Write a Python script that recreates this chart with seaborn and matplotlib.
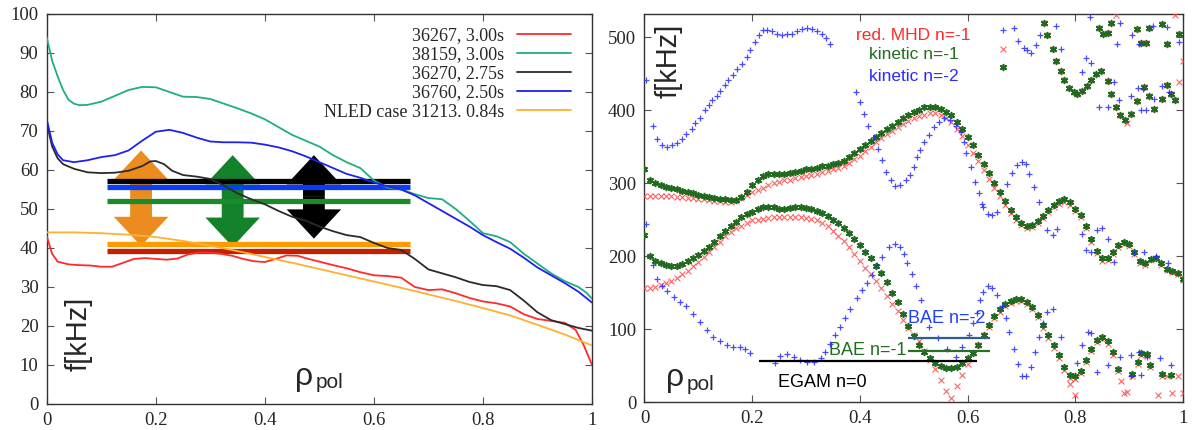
import numpy as np
import pandas as pd
import seaborn as sns
import matplotlib.pyplot as plt
from matplotlib.patches import FancyArrow

# ---------------- left panel: frequency profiles ----------------
x_36267 = [0.0, 0.01, 0.02, 0.04, 0.06, 0.08, 0.1, 0.12, 0.14, 0.16, 0.18, 0.2, 0.22, 0.24, 0.26, 0.28,
           0.3, 0.32, 0.34, 0.36, 0.38, 0.4, 0.42, 0.44, 0.46, 0.48, 0.5, 0.525, 0.55, 0.575, 0.6, 0.625,
           0.65, 0.675, 0.7, 0.725, 0.75, 0.775, 0.8, 0.825, 0.85, 0.875, 0.9, 0.925, 0.95, 0.97, 0.985, 1.0]
f_36267 = [43, 38.5, 36.5, 35.8, 35.6, 35.5, 35.2, 35.2, 36.2, 37.2, 37.4, 37.2, 37, 37.3, 38.4, 38.8,
           38.8, 38.5, 38, 37.2, 36.6, 36.4, 37.2, 38.1, 38, 37.2, 36.5, 35.6, 34.8, 33.8, 33, 32.8,
           32.4, 30, 29.2, 29.4, 28.4, 27.2, 26.3, 25.8, 25, 23, 21.8, 21.3, 20.8, 19, 15, 10]

x_38159 = [0.0, 0.01, 0.02, 0.03, 0.04, 0.05, 0.06, 0.075, 0.1, 0.125, 0.15, 0.175, 0.2, 0.225, 0.25,
           0.275, 0.3, 0.325, 0.35, 0.375, 0.4, 0.425, 0.45, 0.475, 0.5, 0.525, 0.55, 0.575, 0.6, 0.625,
           0.65, 0.675, 0.7, 0.725, 0.75, 0.775, 0.8, 0.825, 0.85, 0.875, 0.9, 0.925, 0.95, 0.975, 0.99, 1.0]
f_38159 = [94, 88, 84, 80.5, 78, 77, 76.6, 76.7, 77.5, 79, 80.5, 81.3, 81.2, 80, 78.8,
           78.7, 78.2, 77, 75.8, 74.5, 73, 71, 69, 67.5, 66, 63.8, 62, 60.5, 57.3, 55.5,
           55, 53.8, 52.8, 52.5, 50, 47, 43.8, 43, 41.5, 38.5, 36, 33.5, 31.5, 30, 28.5, 27]

x_36270 = [0.0, 0.01, 0.02, 0.03, 0.05, 0.075, 0.1, 0.125, 0.15, 0.175, 0.19, 0.2, 0.215, 0.23, 0.25,
           0.275, 0.3, 0.325, 0.35, 0.375, 0.4, 0.425, 0.45, 0.475, 0.5, 0.525, 0.55, 0.575, 0.6, 0.625,
           0.65, 0.675, 0.7, 0.725, 0.75, 0.775, 0.8, 0.825, 0.85, 0.875, 0.9, 0.925, 0.95, 0.975, 1.0]
f_36270 = [72, 66, 63, 61.5, 60.3, 59.4, 59.2, 59.3, 59.8, 61, 62.2, 62.3, 61.5, 59.8, 58.7,
           58.3, 57.7, 56, 54, 52.5, 51.2, 49.5, 48, 47, 45.5, 44.3, 43.3, 42.8, 41.3, 40,
           39.5, 37.2, 34.5, 33.5, 32.5, 31.3, 30.5, 30.2, 29.2, 26.5, 23.5, 21.5, 20.5, 19.5, 18.8]

x_36760 = [0.0, 0.01, 0.02, 0.03, 0.05, 0.075, 0.1, 0.125, 0.15, 0.175, 0.2, 0.225, 0.25, 0.275, 0.3,
           0.325, 0.35, 0.375, 0.4, 0.425, 0.45, 0.475, 0.5, 0.525, 0.55, 0.575, 0.6, 0.625, 0.65, 0.675,
           0.7, 0.725, 0.75, 0.775, 0.8, 0.825, 0.85, 0.875, 0.9, 0.925, 0.95, 0.975, 1.0]
f_36760 = [73, 67, 64, 62.5, 62, 62.5, 63.3, 63.8, 65, 67.5, 69.8, 70.3, 69.5, 68.3, 67.3,
           67.1, 67.1, 67, 66.5, 65.8, 64.8, 63.5, 62, 60.5, 59, 58, 56.8, 55.8, 55, 53.5,
           51.5, 49.5, 47.5, 45.5, 43.3, 41.5, 39.8, 37.5, 35, 33, 31, 28.8, 26]

x_nled = [0.0, 0.05, 0.1, 0.15, 0.2, 0.25, 0.3, 0.35, 0.4, 0.45, 0.5, 0.55, 0.6, 0.65, 0.7, 0.75,
          0.8, 0.85, 0.9, 0.95, 1.0]
f_nled = [44, 44, 43.8, 43.4, 42.8, 41.8, 40.6, 39.2, 37.7, 36.2, 34.6, 33, 31.4, 29.8, 28.1, 26.4,
          24.6, 22.7, 20.3, 17.8, 15]

curve_labels = ["36267, 3.00s", "38159, 3.00s", "36270, 2.75s", "36760, 2.50s", "NLED case 31213. 0.84s"]
curve_colors = ["#ff2a2a", "#1fae80", "#2b2b2b", "#2020f0", "#ffb030"]

# thick horizontal bands and double arrows
band_levels = [57.2, 55.7, 52.1, 40.9, 39.3]
band_colors = ["#000000", "#0a3cf5", "#1a8a2a", "#ff9900", "#c42000"]
band_start, band_end = 0.11, 0.667
arrow_x = [0.173, 0.341, 0.49]
arrow_lo = [40.5, 40.3, 42.4]
arrow_hi = [65.0, 63.8, 63.8]
arrow_colors = ["#ec8c1e", "#13822a", "#000000"]

# ---------------- right panel: mode frequencies ----------------
rho_grid = np.linspace(0, 1, 101)
mhd_upper = [283, 283, 282, 282, 282, 282, 281, 281, 280, 280, 279, 278, 277, 276, 275, 274, 274, 276, 280, 284,
             288, 291, 294, 297, 300, 302, 304, 305, 307, 308, 310, 311, 313, 315, 317, 319, 321, 324, 328, 333,
             338, 344, 350, 356, 362, 367, 372, 377, 381, 385, 389, 392, 394, 396, 396, 393, 389, 384, 375, 365,
             353, 342, 330, 318, 306, 294, 282, 270, 259, 250, 243, 239, 240, 245, 252, 260, 267, 272, 274, 270,
             262, 254, 238, 220, 204, 194, 195, 203, 212, 217, 214, 203, 190, 188, 195, 197, 188, 181, 178, 176, 167]
kin1_upper = [319, 304, 300, 297, 295, 294, 292, 290, 288, 286, 284, 282, 281, 280, 279, 278, 277, 277, 281, 288,
              297, 305, 310, 312, 312, 312, 313, 314, 316, 317, 319, 320, 321, 323, 324, 326, 328, 331, 336, 341,
              347, 352, 358, 363, 369, 374, 379, 384, 389, 394, 398, 401, 404, 405, 405, 402, 398, 393, 384, 375,
              364, 352, 339, 327, 314, 300, 288, 275, 263, 253, 246, 242, 243, 248, 255, 263, 270, 276, 278, 274,
              265, 256, 241, 224, 207, 197, 198, 206, 215, 219, 216, 205, 193, 190, 196, 198, 190, 183, 180, 177, 168]
mhd_lower = [157, 157, 158, 160, 163, 166, 170, 175, 180, 186, 192, 199, 206, 213, 220, 227, 233, 238, 242, 246,
             249, 250, 251, 252, 253, 253, 253, 253, 253, 253, 252, 251, 249, 246, 241, 235, 228, 221, 212, 203,
             194, 184, 175, 166, 156, 145, 134, 125, 113, 102, 92, 83, 70, 57, 45, 30, 15, 5, 22, 37,
             52, 67, 78, 92, 103, 115, 124, 131, 136, 139, 139, 135, 128, 116, 102, 88, 74, 60, 44, 25, 10]
kin1_lower = [229, 200, 194, 190, 188, 186, 186, 189, 193, 197, 202, 207, 213, 220, 227, 234, 241, 247, 253, 258,
              261, 264, 267, 268, 267, 265, 265, 266, 267, 267, 266, 265, 262, 259, 255, 250, 245, 239, 232, 224,
              215, 206, 197, 187, 177, 165, 150, 137, 120, 104, 90, 78, 68, 60, 54, 50, 47, 46, 48, 53,
              60, 67, 78, 92, 105, 118, 127, 134, 138, 141, 141, 137, 130, 119, 106, 92, 78, 64, 48, 37,
              36, 42, 58, 73, 85, 89, 83, 68, 45]

# points where red. MHD and kinetic n=-1 coincide (upper right)
both_pts = [(0.742, 520), (0.748, 503), (0.758, 484), (0.765, 468), (0.773, 454), (0.780, 441), (0.788, 431),
            (0.797, 425), (0.804, 422), (0.813, 427), (0.821, 433), (0.829, 441), (0.838, 450), (0.847, 454),
            (0.860, 440), (0.867, 423), (0.875, 405), (0.883, 393), (0.892, 387), (0.903, 395), (0.914, 413),
            (0.928, 432), (0.937, 419), (0.947, 402), (0.961, 415), (0.970, 434), (0.978, 423), (0.985, 414),
            (0.844, 513), (0.852, 504), (0.860, 506), (0.867, 520), (0.914, 512), (0.923, 492), (0.931, 492),
            (0.937, 513), (0.961, 518), (0.970, 491), (0.993, 504)]
mhd_extra = [(0.79, 33), (0.80, 32), (0.81, 40), (0.82, 55), (0.83, 70), (0.84, 82), (0.85, 86), (0.86, 80),
             (0.87, 65), (0.88, 42), (0.885, 29), (0.89, 12), (0.897, 14), (0.906, 36), (0.916, 52), (0.923, 64),
             (0.933, 63), (0.939, 48), (0.953, 10), (0.962, 36), (0.97, 35), (0.98, 13), (0.99, 35), (1.0, 13),
             (0.665, 484), (0.875, 530), (0.985, 530), (1.0, 468), (0.993, 439), (0.897, 382)]
kin1_extra = [(0.665, 459), (0.906, 39), (0.916, 55), (0.923, 67), (0.933, 66), (0.939, 51), (0.962, 39),
              (0.978, 37)]

kin2_upper = [(0.003, 442), (0.016, 379), (0.024, 361), (0.032, 353), (0.041, 350), (0.051, 352), (0.060, 355),
              (0.069, 361), (0.078, 368), (0.088, 375), (0.094, 382), (0.103, 390), (0.113, 400), (0.119, 407),
              (0.125, 414), (0.134, 420), (0.140, 427), (0.150, 434), (0.156, 441), (0.165, 448), (0.172, 457),
              (0.181, 464), (0.190, 473), (0.196, 483), (0.206, 493), (0.212, 503), (0.220, 510), (0.227, 510),
              (0.237, 509), (0.246, 505), (0.255, 503), (0.265, 504), (0.274, 505), (0.283, 509), (0.292, 512),
              (0.302, 513), (0.311, 512), (0.320, 509), (0.330, 504), (0.338, 499), (0.345, 491)]
kin2_lower = [(0.003, 244), (0.015, 188), (0.023, 169), (0.032, 159), (0.041, 152), (0.054, 144), (0.066, 137),
              (0.078, 131), (0.091, 121), (0.103, 110), (0.116, 99), (0.128, 89), (0.140, 83), (0.153, 78),
              (0.165, 76), (0.178, 76), (0.187, 72), (0.196, 67), (0.243, 54), (0.252, 63), (0.265, 66),
              (0.277, 62), (0.289, 57), (0.302, 55), (0.314, 55), (0.327, 60), (0.336, 69), (0.345, 80),
              (0.354, 92), (0.363, 103), (0.373, 115), (0.382, 128), (0.395, 142), (0.404, 153), (0.413, 163),
              (0.423, 174), (0.432, 188), (0.441, 199), (0.454, 213), (0.466, 217), (0.475, 213), (0.482, 203),
              (0.488, 190), (0.497, 175), (0.505, 159), (0.514, 140), (0.528, 103), (0.545, 88), (0.562, 72),
              (0.578, 62), (0.590, 75), (0.602, 92), (0.611, 108), (0.617, 122), (0.623, 140), (0.629, 151),
              (0.638, 159), (0.646, 157), (0.655, 147), (0.664, 131), (0.671, 115), (0.677, 96), (0.687, 72),
              (0.694, 52), (0.702, 36), (0.708, 36), (0.717, 48), (0.725, 69), (0.733, 89), (0.740, 108),
              (0.748, 124)]
kin2_mid = [(0.393, 425), (0.401, 411), (0.408, 395), (0.416, 379), (0.426, 363), (0.433, 347), (0.441, 332),
            (0.449, 316), (0.457, 304), (0.466, 296), (0.475, 297), (0.485, 304), (0.493, 311), (0.500, 322),
            (0.506, 336), (0.512, 345), (0.519, 357), (0.528, 366), (0.537, 377), (0.547, 384), (0.556, 389),
            (0.568, 386), (0.578, 379), (0.587, 370), (0.593, 356), (0.598, 341), (0.606, 322), (0.613, 302),
            (0.621, 286), (0.627, 272)]
kin2_extra = [(0.629, 268), (0.638, 258), (0.646, 256), (0.655, 261), (0.674, 299), (0.683, 314), (0.692, 325),
              (0.702, 329), (0.708, 326), (0.714, 313), (0.723, 295), (0.733, 274), (0.748, 236), (0.758, 229),
              (0.766, 237), (0.813, 231), (0.820, 208), (0.829, 206), (0.841, 236), (0.850, 238), (0.860, 223),
              (0.872, 192), (0.909, 204), (0.928, 206), (0.950, 200), (0.972, 190), (0.758, 128), (0.773, 89),
              (0.803, 53), (0.813, 78), (0.823, 96), (0.830, 94), (0.841, 41), (0.860, 51), (0.883, 62),
              (0.903, 64), (0.918, 68), (0.934, 62), (0.922, 37), (0.903, 35), (0.958, 60), (0.977, 51),
              (0.665, 510), (0.686, 513), (0.694, 495), (0.704, 486), (0.711, 483), (0.718, 478), (0.727, 489),
              (0.735, 503), (0.764, 516), (0.773, 484), (0.820, 472), (0.829, 465), (0.813, 452), (0.844, 405),
              (0.860, 405), (0.828, 528), (0.883, 519), (0.877, 491), (0.906, 503), (0.919, 491), (0.944, 515),
              (0.970, 514), (0.916, 431), (0.925, 429), (0.962, 433), (0.975, 425), (0.993, 494), (0.872, 439),
              (0.881, 414), (0.903, 419), (0.922, 401), (0.932, 400), (0.947, 415)]

# gap markers: (label, level, x from, x to, colour)
gap_lines = [("EGAM n=0", 56, 0.213, 0.617, "#000000"),
             ("BAE n=-1", 70, 0.489, 0.641, "#2a6e2a"),
             ("BAE n=-2", 88, 0.489, 0.641, "#2f5d8e")]

x_ticks = [0, 0.2, 0.4, 0.6, 0.8, 1]
x_ticklabels = ["0", "0.2", "0.4", "0.6", "0.8", "1"]

sns.set_style("ticks")
serif = ["Liberation Serif", "DejaVu Serif"]
sans = ["Liberation Sans", "DejaVu Sans"]
plt.rcParams["font.family"] = serif

fig = plt.figure(figsize=(11.95, 4.30), dpi=100)
axL = fig.add_axes([0.0391, 0.0605, 0.4563, 0.907])
axR = fig.add_axes([0.5393, 0.0651, 0.4506, 0.9023])

# --- left ---
for x, lo, hi, c in zip(arrow_x, arrow_lo, arrow_hi, arrow_colors):
    mid = (lo + hi) / 2
    for tip in (hi, lo):
        axL.add_patch(FancyArrow(x, mid, 0, tip - mid, width=0.04, head_width=0.10, head_length=7.5,
                                 length_includes_head=True, color=c, lw=0, zorder=2))
axL.hlines(band_levels, band_start, band_end, colors=band_colors, linewidth=3.8, zorder=3)

curves = [(x_36267, f_36267), (x_38159, f_38159), (x_36270, f_36270), (x_36760, f_36760), (x_nled, f_nled)]
for (xs, ys), lab, col in zip(curves, curve_labels, curve_colors):
    sns.lineplot(x=xs, y=ys, color=col, linewidth=1.3, label=lab, ax=axL, zorder=4, sort=False)

axL.legend(loc="upper right", bbox_to_anchor=(0.975, 0.985), frameon=False, markerfirst=False,
           prop={"family": serif, "size": 13}, handlelength=3.0, handletextpad=0.7, labelspacing=0.12,
           borderaxespad=0)

axL.set_xlim(0, 1)
axL.set_ylim(0, 100)
axL.set_yticks(range(0, 101, 10))
axL.text(0.059, 18, "f[kHz]", rotation=90, ha="center", va="center", fontsize=21, family=sans)
axL.text(0.456, 4.8, "ρ", fontsize=23, family=sans, va="baseline")
axL.text(0.494, 4.0, "pol", fontsize=15, family=sans, va="baseline")

# --- right ---
mhd_x = list(rho_grid) + list(rho_grid[:len(mhd_lower)]) + [p[0] for p in both_pts + mhd_extra]
mhd_y = mhd_upper + mhd_lower + [p[1] for p in both_pts + mhd_extra]
kin1_x = list(rho_grid) + list(rho_grid[:len(kin1_lower)]) + [p[0] for p in both_pts + kin1_extra]
kin1_y = kin1_upper + kin1_lower + [p[1] for p in both_pts + kin1_extra]
kin2_pts = kin2_upper + kin2_lower + kin2_mid + kin2_extra
kin2_x = [p[0] for p in kin2_pts]
kin2_y = [p[1] for p in kin2_pts]

sns.scatterplot(x=mhd_x, y=mhd_y, marker="x", color="#ff3b3b", s=18, linewidth=0.8, alpha=0.8,
                ax=axR, zorder=3, legend=False)
sns.scatterplot(x=kin1_x, y=kin1_y, marker=(6, 2, 0), color="#1f6a1f", s=17, linewidth=1.2,
                ax=axR, zorder=4, legend=False)
sns.scatterplot(x=kin2_x, y=kin2_y, marker="+", color="#2a2aff", s=24, linewidth=0.9, alpha=0.85,
                ax=axR, zorder=5, legend=False)

for lab, lev, x0, x1, col in gap_lines:
    axR.hlines(lev, x0, x1, colors=col, linewidth=1.6, zorder=6)
axR.text(0.331, 27, "EGAM n=0", ha="center", va="center", fontsize=13, family=sans, color="#000000")
axR.text(0.487, 71, "BAE n=-1", ha="right", va="center", fontsize=13, family=sans, color="#1e6e1e")
axR.text(0.561, 115, "BAE n=-2", ha="center", va="center", fontsize=13, family=sans, color="#1f3fff")

axR.text(0.50, 503, "red. MHD n=-1", ha="center", va="center", fontsize=12.5, family=sans, color="#ff2a2a")
axR.text(0.50, 477, "kinetic n=-1", ha="center", va="center", fontsize=12.5, family=sans, color="#1e6e1e")
axR.text(0.50, 447, "kinetic n=-2", ha="center", va="center", fontsize=12.5, family=sans, color="#2a2aff")
axR.text(0.044, 468, "f[kHz]", rotation=90, ha="center", va="center", fontsize=21, family=sans)
axR.text(0.040, 22, "ρ", fontsize=23, family=sans, va="baseline")
axR.text(0.078, 16, "pol", fontsize=15, family=sans, va="baseline")

axR.set_xlim(0, 1)
axR.set_ylim(0, 532)
axR.set_yticks(range(0, 501, 100))

for ax in (axL, axR):
    ax.set_xticks(x_ticks)
    ax.set_xticklabels(x_ticklabels)
    ax.set_xlabel("")
    ax.set_ylabel("")
    ax.tick_params(direction="in", length=5, width=0.8, top=True, right=True, labelsize=13.5, pad=6,
                   color="#555555", labelfontfamily="Liberation Serif")
    for sp in ax.spines.values():
        sp.set_visible(True)
        sp.set_color("#333333")
        sp.set_linewidth(1.0)

fig.savefig("out.png", dpi=100)
